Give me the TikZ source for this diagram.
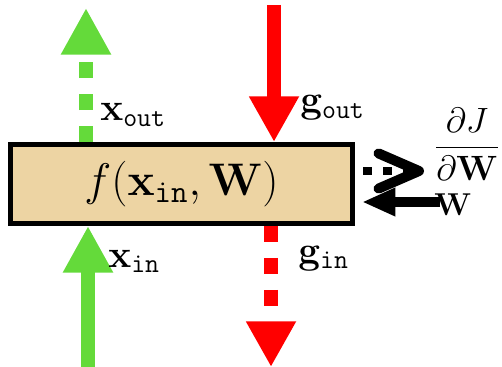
\RequirePackage{fix-cm}
\documentclass[tikz,border=0pt]{standalone}
\usepackage{amsmath}
\usetikzlibrary{arrows.meta}
\definecolor{boxtan}{RGB}{237,212,163}
\definecolor{fwdgreen}{RGB}{100,218,58}

\begin{document}
\begin{tikzpicture}[
  x=0.02cm, y=-0.02cm,
  layer/.style={draw, line width=2.56pt, fill=boxtan, minimum width=6.85cm,
                minimum height=1.59cm, inner sep=0pt, font=\fontsize{26}{30}\selectfont},
  fwd/.style={draw=fwdgreen, line width=8.5pt, -{Triangle[length=26.5pt,width=26.7pt]}},
  bwd/.style={draw=red, line width=8.5pt, -{Triangle[length=26pt,width=26.7pt]}},
  gaps/.style={dash pattern=on 9.1pt off 9.1pt},
  grad/.style={draw=black, line width=5.1pt, dash pattern=on 5.1pt off 6.3pt, dash phase=6.8pt,
               -{Straight Barb[length=23pt,width=20pt,line width=5.7pt,round]}},
  wgt/.style={draw=black, line width=5.7pt, shorten >=4pt, -{Triangle[length=19pt,width=15pt]}},
  lbl/.style={font=\fontsize{22}{24}\selectfont, anchor=base west, inner sep=0pt},
]
\useasboundingbox (0,0) rectangle (502,367);

% ---------- layer ----------
\node[layer] (fbox) at (181.5,184) {$f(\mathbf{x}_{\mathtt{in}}, \mathbf{W})$};

% ---------- free ends ----------
\coordinate (xinsrc)  at (88,367);
\coordinate (xouttip) at (86,8);
\coordinate (goutsrc) at (274,5);
\coordinate (gintip)  at (271,367);
\coordinate (dWtip)   at (424,171);
\coordinate (Wsrc)    at (440,202);

% ---------- forward / backward ----------
\draw[fwd] (xinsrc) -- (xinsrc |- fbox.south);
\draw[fwd, gaps] (xouttip |- fbox.north) -- (xouttip);
\draw[bwd] (goutsrc) -- (goutsrc |- fbox.north);
\draw[bwd, gaps] (gintip |- fbox.south) -- (gintip);
\draw[grad] (dWtip -| fbox.east) -- (dWtip);
\draw[wgt] (Wsrc) -- (Wsrc -| fbox.east);

% ---------- labels ----------
\node[lbl] (xoutl) at (100,121) {$\mathbf{x}_{\mathtt{out}}$};
\node[lbl] (goutl) at (300,113) {$\mathbf{g}_{\mathtt{out}}$};
\node[lbl] (xinl)  at (108,267) {$\mathbf{x}_{\mathtt{in}}$};
\node[lbl] (ginl)  at (298,263) {$\mathbf{g}_{\mathtt{in}}$};
\node[font=\fontsize{20}{22}\selectfont, inner sep=0pt] (dJdW) at (467,144) {$\dfrac{\partial J}{\partial\mathbf{W}}$};
\node[lbl, font=\fontsize{18}{20}\selectfont] (Wl) at (434,215) {$\mathbf{W}$};
\end{tikzpicture}
\end{document}
